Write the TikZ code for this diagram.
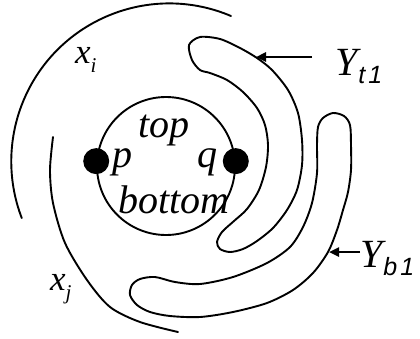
\documentclass[tikz,border=0pt]{standalone}
\usepackage{fontspec}
\setmainfont{Liberation Serif}
\newfontfamily\subsans{Liberation Sans}
\usetikzlibrary{arrows.meta,positioning,calc}
\newcommand{\ysub}[1]{\raisebox{-8pt}{\subsans\fontsize{25}{25}\selectfont\itshape #1}}
\newcommand{\xsub}[1]{\raisebox{-9pt}{\fontsize{21}{21}\selectfont\itshape #1}}

\begin{document}
\begin{tikzpicture}[x=1pt, y=-1pt,
  curve/.style={line width=1.9pt, line join=round, line cap=round},
  lbl/.style={inner sep=0pt, font=\fontsize{40}{40}\selectfont\itshape, anchor=base},
  xlbl/.style={inner sep=0pt, font=\fontsize{35}{35}\selectfont\itshape, anchor=base west},
  arr/.style={line width=2.4pt, -{Triangle[length=10pt,width=9pt]}},
  dot/.style={circle, fill, inner sep=0pt, minimum size=26pt}
]
  \useasboundingbox (0,0) rectangle (420,338);
  \node[circle, draw, line width=1.9pt, minimum size=138pt, inner sep=0pt] (disk) at (166,166) {};
  \node[dot] (p) at (disk.176) {};
  \node[dot] (q) at (disk.4) {};
  \node[lbl] (top) at (164,137) {top};
  \node[lbl] (bottom) at (174,213) {bottom};
  \node[lbl] (plbl) at (122,167) {p};
  \node[lbl] (qlbl) at (207,167) {q};
  \draw[curve] (231,16) arc[start angle=-67, end angle=-201, radius=158];
  \draw[curve] plot[smooth] coordinates {(53,137) (50,170) (53,203) (65,243) (87,280) (110,307) (140,322) (178,332)};
  \node[xlbl] (xi) at (75,63) {x\xsub{i}};
  \node[xlbl] (xj) at (50,290) {x\xsub{j}};
  \draw[curve] plot[smooth cycle] coordinates {(189,45) (200,37) (220,39) (240,48) (257,58) (272,70) (288,90) (298,113) (302,140) (302,165) (297,190) (287,210) (273,228) (257,241) (243,249) (230,252) (220,249) (217,242) (222,232) (234,221) (247,209) (259,190) (266,167) (268,145) (265,125) (257,108) (243,92) (227,80) (210,73) (200,70) (192,60)};
  \draw[curve] plot[smooth cycle] coordinates {(333,113) (344,116) (350,125) (351,145) (351,170) (348,192) (343,210) (337,230) (328,252) (313,273) (293,290) (267,303) (233,312) (200,317) (170,316) (150,312) (137,305) (130,295) (132,285) (140,279) (155,277) (175,282) (200,284) (233,277) (267,263) (290,247) (303,227) (312,203) (317,173) (317,145) (318,127) (323,118)};
  \node[lbl, anchor=base west] (yt1) at (335,75) {Y\kern1pt\ysub{t\kern3pt1}};
  \node[lbl, anchor=base west] (yb1) at (360,267) {Y\kern1pt\ysub{b\kern3pt1}};
  \coordinate (tipT) at (256,57);
  \coordinate (tipB) at (329,252);
  \draw[arr] ($(yt1.west |- tipT)+(-23,0)$) -- (tipT);
  \draw[arr] (yb1.west |- tipB) -- (tipB);
\end{tikzpicture}
\end{document}
